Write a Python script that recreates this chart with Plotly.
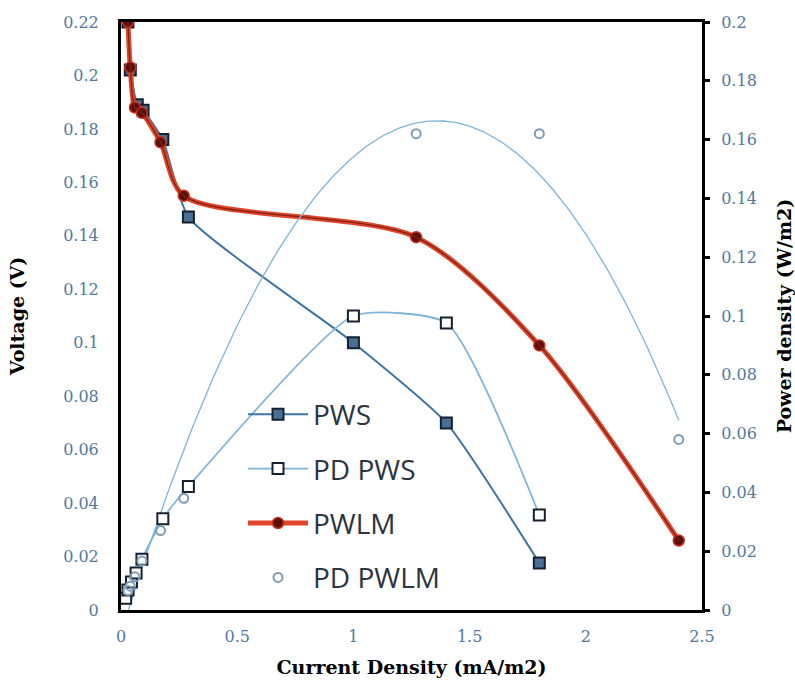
import numpy as np
import plotly.graph_objects as go

# Current density (mA/m2) and cell voltage (V) / power density (W/m2)
pws_x = [0.03, 0.04, 0.07, 0.095, 0.18, 0.29, 1.0, 1.4, 1.8]
pws_v = [0.22, 0.202, 0.189, 0.187, 0.176, 0.147, 0.1, 0.07, 0.0176]

pd_pws_x = [0.02, 0.03, 0.045, 0.065, 0.09, 0.18, 0.29, 1.0, 1.4, 1.8]
pd_pws_p = [0.004, 0.0068, 0.0095, 0.0126, 0.0173, 0.031, 0.042, 0.1, 0.0976, 0.0323]

pwlm_x = [0.03, 0.04, 0.06, 0.09, 0.17, 0.27, 1.27, 1.8, 2.4]
pwlm_v = [0.22, 0.203, 0.188, 0.186, 0.175, 0.155, 0.1395, 0.099, 0.026]

pd_pwlm_x = [0.03, 0.04, 0.06, 0.09, 0.17, 0.27, 1.27, 1.8, 2.4]
pd_pwlm_p = [0.0066, 0.0081, 0.0113, 0.0167, 0.027, 0.038, 0.162, 0.162, 0.058]

x_ticks = [0, 0.5, 1, 1.5, 2, 2.5]
x_tick_text = ["0", "0.5", "1", "1.5", "2", "2.5"]

# Polynomial trendline for the PD PWLM points
coef = np.polyfit(pd_pwlm_x, pd_pwlm_p, 2)
trend_x = np.linspace(0, max(pd_pwlm_x), 200)
trend_p = np.polyval(coef, trend_x)

tick_font = dict(family="DejaVu Serif", size=16, color="#5179a0")
title_font = dict(family="DejaVu Serif", size=19, color="black")

fig = go.Figure()

fig.add_trace(go.Scatter(
    x=trend_x, y=trend_p, yaxis="y2", mode="lines",
    line=dict(color="#7fb4da", width=1.3), showlegend=False, hoverinfo="skip"))

fig.add_trace(go.Scatter(
    x=pws_x, y=pws_v, name="PWS", mode="lines+markers", legendgroup="a",
    line=dict(color="#3d74a3", width=2, shape="spline", smoothing=0.5),
    marker=dict(symbol="square", size=11, color="#4a6f94",
                line=dict(color="#15212e", width=2))))

fig.add_trace(go.Scatter(
    x=pd_pws_x, y=pd_pws_p, name="PD PWS", yaxis="y2", mode="lines+markers", legendgroup="b",
    line=dict(color="#7fb4da", width=1.8, shape="spline", smoothing=0.55),
    marker=dict(symbol="square", size=11, color="white",
                line=dict(color="#15212e", width=2))))

fig.add_trace(go.Scatter(
    x=pwlm_x, y=pwlm_v, name="PWLM", mode="lines+markers", legendgroup="c",
    line=dict(color="#e0452a", width=5, shape="spline", smoothing=0.8),
    marker=dict(symbol="circle", size=11, color="#5e0f0c",
                line=dict(color="#c8321e", width=1.5))))

fig.add_trace(go.Scatter(
    x=pwlm_x, y=pwlm_v, mode="lines", legendgroup="c", showlegend=False, hoverinfo="skip",
    line=dict(color="#7a2216", width=1.2, shape="spline", smoothing=0.8)))

fig.add_trace(go.Scatter(
    x=pd_pwlm_x, y=pd_pwlm_p, name="PD PWLM", yaxis="y2", mode="markers", legendgroup="d",
    marker=dict(symbol="circle-open", size=9, color="#7d9db6", line=dict(width=2))))

fig.update_layout(
    width=795, height=686,
    margin=dict(l=121, r=93, t=22, b=76, autoexpand=False),
    paper_bgcolor="white", plot_bgcolor="white",
    xaxis=dict(range=[0, 2.5], tickvals=x_ticks, ticktext=x_tick_text, automargin=False,
               showgrid=False, zeroline=False, showline=True, mirror=True,
               linecolor="black", linewidth=3, ticks="", tickfont=tick_font,
               ticklabelstandoff=10,
               title=dict(text="<b>Current Density (mA/m2)</b>", font=title_font, standoff=16)),
    yaxis=dict(range=[0, 0.22], dtick=0.02, tickformat="~g", automargin=False,
               showgrid=False, zeroline=False, showline=True,
               linecolor="black", linewidth=3, ticks="", tickfont=tick_font,
               ticklabelstandoff=16,
               title=dict(text="<b>Voltage (V)</b>", font=title_font, standoff=34)),
    yaxis2=dict(range=[0, 0.2], dtick=0.02, tickformat="~g", overlaying="y", side="right",
                automargin=False,
                showgrid=False, zeroline=False, showline=True,
                linecolor="black", linewidth=3, ticks="outside", ticklen=5, tickwidth=3,
                tickcolor="black", tickfont=tick_font, ticklabelstandoff=8,
                title=dict(text="<b>Power density (W/m2)</b>", font=title_font, standoff=22)),
    legend=dict(x=0.21, y=0.375, xanchor="left", yanchor="top",
                bgcolor="rgba(0,0,0,0)", tracegroupgap=15, itemwidth=60,
                font=dict(family="Open Sans", size=28, color="#2b3440")),
    showlegend=True,
)

fig.write_html("out.html")
